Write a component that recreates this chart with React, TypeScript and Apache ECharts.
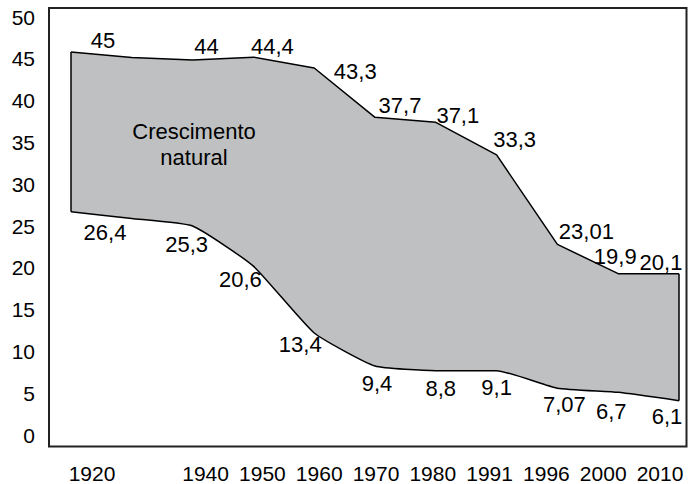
import React, { useEffect, useRef } from "react";
import * as echarts from "echarts";

// x slots (1930 has no printed label, the original drawing leaves a double gap there)
const xSlots = ["1920", "1930", "1940", "1950", "1960", "1970", "1980", "1991", "1996", "2000", "2010"];
const yearLabels = ["1920", "", "1940", "1950", "1960", "1970", "1980", "1991", "1996", "2000", "2010"];

// birth rate (upper edge) and death rate (lower edge), as drawn
const upperValues = [45.8, 45.15, 44.85, 45.2, 43.9, 38.0, 37.4, 33.5, 22.8, 19.3, 19.3];
const lowerValues = [26.7, 25.9, 25.0, 20.2, 12.2, 8.25, 7.7, 7.7, 5.6, 5.1, 4.1];

// printed values
const upperLabels = ["45", "", "44", "44,4", "43,3", "37,7", "37,1", "33,3", "23,01", "19,9", "20,1"];
const lowerLabels = ["26,4", "", "25,3", "20,6", "13,4", "9,4", "8,8", "9,1", "7,07", "6,7", "6,1"];

const yMin = 0;
const yMax = 50;
const yStep = 5;

const areaTitle = "Crescimento\nnatural";

// layout: label offsets (px) relative to each point
const upperLabelOffsets = [[32, -12], [0, 0], [14, -14], [19, -11], [41, 4], [25, -12], [22, -7], [18, -15], [29, -13], [-3, -17], [-18, -11]];
const lowerLabelOffsets = [[34, 21], [0, 0], [-6, 18], [-13, 13], [-14, 11], [2, 17], [5, 18], [0, 17], [7, 16], [-7, 19], [-12, 16]];

const FONT = "'Liberation Sans', Arial, Helvetica, sans-serif";
const FILL = "#bfc0c2";

export default function App() {
  const ref = useRef<HTMLDivElement>(null);

  useEffect(() => {
    if (!ref.current) return;
    const chart = echarts.init(ref.current, null, { renderer: "svg" });
    const last = xSlots.length - 1;

    const labelBase = {
      show: true,
      position: "inside",
      fontSize: 22,
      fontFamily: FONT,
      color: "#000",
    };

    chart.setOption({
      animation: false,
      backgroundColor: "#fff",
      grid: [
        { left: 71, right: 9, top: 17, bottom: 49 },
        { left: 92, right: 28, top: 17, bottom: 49 },
      ],
      xAxis: [
        {
          type: "category",
          gridIndex: 0,
          data: xSlots,
          boundaryGap: false,
          axisLine: { show: false },
          axisTick: { show: false },
          axisLabel: { show: false },
          splitLine: { show: false },
        },
        {
          type: "category",
          gridIndex: 1,
          data: yearLabels,
          boundaryGap: false,
          axisLine: { show: false },
          axisTick: { show: false },
          axisLabel: {
            show: true,
            interval: 0,
            margin: 29,
            fontSize: 21,
            fontFamily: FONT,
            color: "#000",
          },
          splitLine: { show: false },
        },
      ],
      yAxis: [
        {
          type: "value",
          gridIndex: 0,
          min: yMin,
          max: yMax,
          interval: yStep,
          axisLine: { show: false },
          axisTick: { show: false },
          splitLine: { show: false },
          axisLabel: {
            margin: 36,
            fontSize: 21,
            fontFamily: FONT,
            color: "#000",
          },
        },
        {
          type: "value",
          gridIndex: 1,
          min: yMin,
          max: yMax,
          show: false,
        },
      ],
      graphic: [
        {
          type: "rect",
          shape: { x: 49, y: 8, width: 637.5, height: 438.5 },
          style: { fill: "none", stroke: "#222", lineWidth: 2 },
          z: 0,
        },
        {
          type: "text",
          x: 194,
          y: 144,
          style: {
            text: areaTitle,
            fontSize: 22,
            fontFamily: FONT,
            fill: "#000",
            align: "center",
            verticalAlign: "middle",
            lineHeight: 26,
          },
          z: 10,
        },
      ],
      series: [
        {
          name: "upper",
          type: "line",
          xAxisIndex: 0,
          yAxisIndex: 0,
          data: upperValues.map((v, i) => ({
            value: v,
            label: { show: upperLabels[i] !== "", offset: upperLabelOffsets[i] },
          })),
          symbol: "circle",
          symbolSize: 1,
          showAllSymbol: true,
          itemStyle: { color: "rgba(0,0,0,0)" },
          lineStyle: { color: "#000", width: 1.5 },
          areaStyle: { color: FILL, opacity: 1, origin: "start" },
          label: { ...labelBase, formatter: (p: any) => upperLabels[p.dataIndex] },
          z: 2,
        },
        {
          name: "lower",
          type: "line",
          xAxisIndex: 0,
          yAxisIndex: 0,
          data: lowerValues.map((v, i) => ({
            value: v,
            label: { show: lowerLabels[i] !== "", offset: lowerLabelOffsets[i] },
          })),
          smooth: 0.15,
          symbol: "circle",
          symbolSize: 1,
          showAllSymbol: true,
          itemStyle: { color: "rgba(0,0,0,0)" },
          lineStyle: { color: "#000", width: 1.5 },
          areaStyle: { color: "#fff", opacity: 1, origin: "start" },
          label: { ...labelBase, formatter: (p: any) => lowerLabels[p.dataIndex] },
          z: 3,
        },
        {
          name: "edgeLeft",
          type: "line",
          xAxisIndex: 0,
          yAxisIndex: 0,
          data: [
            [0, lowerValues[0]],
            [0, upperValues[0]],
          ],
          symbol: "none",
          lineStyle: { color: "#000", width: 1.5 },
          z: 4,
        },
        {
          name: "edgeRight",
          type: "line",
          xAxisIndex: 0,
          yAxisIndex: 0,
          data: [
            [last, lowerValues[last]],
            [last, upperValues[last]],
          ],
          symbol: "none",
          lineStyle: { color: "#000", width: 1.5 },
          z: 4,
        },
      ],
    });

    return () => chart.dispose();
  }, []);

  return (
    <div
      ref={ref}
      style={{ position: "fixed", left: 0, top: 0, width: 688, height: 484, background: "#fff" }}
    />
  );
}
